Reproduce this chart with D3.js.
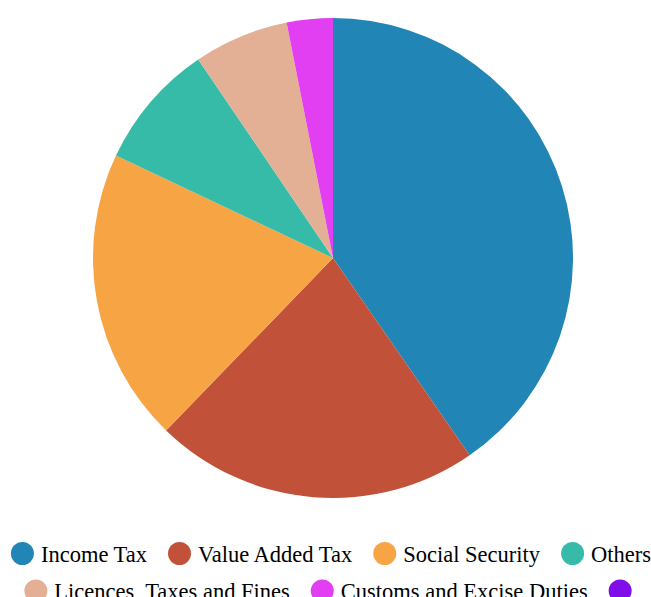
<!DOCTYPE html>
<html>
<head>
<meta charset="utf-8">
<script src="https://cdn.jsdelivr.net/npm/d3@7"></script>
<style>
  body { margin: 0; background: #fff; }
</style>
</head>
<body>
<script>
// data
var categories = ["Income Tax", "Value Added Tax", "Social Security", "Others",
    "Licences, Taxes and Fines", "Customs and Excise Duties", ""];
var values = [40.4, 21.9, 19.8, 8.5, 6.4, 3.1, 0];
var colors = ["#2185b5", "#c2513a", "#f7a444", "#36bba9", "#e3b096", "#e23ef2", "#7f0ee8"];

var width = 651, height = 597;
var cx = 333, cy = 258, radius = 240;

var svg = d3.select("body")
    .append("svg")
    .attr("width", width)
    .attr("height", height);

var data = categories.map(function (c, i) { return { name: c, value: values[i], color: colors[i] }; });

var pie = d3.pie()
    .sort(null)
    .value(function (d) { return d.value; });

var arc = d3.arc()
    .innerRadius(0)
    .outerRadius(radius);

var g = svg.append("g")
    .attr("transform", "translate(" + cx + "," + cy + ")");

g.selectAll("path")
    .data(pie(data))
    .enter()
    .append("path")
    .attr("d", arc)
    .attr("fill", function (d) { return d.data.color; });

// legend: 4 items on first row, rest on second
var r = 11.5, textOff = 18.5, itemGap = 21, perRow = 4;
var rowY = [553.5, 591], rowCx = [331, 328];
var legend = svg.append("g");

var items = data.map(function (d) {
    var it = legend.append("g");
    it.append("circle")
        .attr("r", r)
        .attr("fill", d.color);
    var t = it.append("text")
        .attr("x", textOff)
        .attr("y", 8)
        .attr("font-family", "'Liberation Serif', 'Times New Roman', serif")
        .attr("font-size", 22.5)
        .attr("fill", "#000")
        .text(d.name);
    var w = d.name ? textOff + t.node().getComputedTextLength() : r;
    return { g: it, w: w + r };
});

var rows = [items.slice(0, perRow), items.slice(perRow)];
rows.forEach(function (row, k) {
    var total = d3.sum(row, function (it) { return it.w; }) + itemGap * (row.length - 1);
    var x = rowCx[k] - total / 2;
    row.forEach(function (it) {
        it.g.attr("transform", "translate(" + (x + r) + "," + rowY[k] + ")");
        x += it.w + itemGap;
    });
});
</script>
</body>
</html>
